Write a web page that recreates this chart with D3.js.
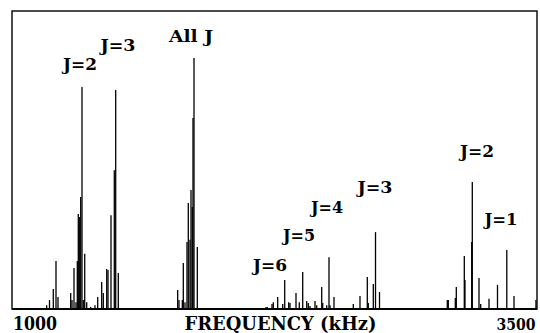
<!DOCTYPE html>
<html><head><meta charset="utf-8">
<script src="https://cdn.jsdelivr.net/npm/d3@7"></script>
<style>html,body{margin:0;padding:0;background:#fff;}svg{display:block;}
text{font-family:"DejaVu Serif","Noto Serif","Liberation Serif",serif;font-weight:bold;}</style>
</head><body>
<svg id="c" width="540" height="333"></svg>
<script>
// Line frequencies (kHz) and relative intensities (0-100 = full frame height)
const freqs = [
  1165,1178.6,1196.7,1209.5,1219,
  1279.5,1285.7,1295.2,1304.8,1311,1315.7,1320.5,1327.1,1333.3,1339.5,1346.2,1355.7,1374.8,
  1395.2,1408.1,1427.1,1434.8,1451,1457.1,1471.4,1487.1,1493.8,1506.2,
  1789,1795.2,1811,1815.7,1823.8,1833.3,1839.5,1847.6,1852.4,1858.6,1861.9,1866.7,1882.4,
  2209.5,2215.7,2238.1,2244.3,2265.2,2289,2298.6,2317.6,2323.8,2352.4,2368.1,2384.3,2403.4,2411,2419,
  2442.9,2451,2474.8,2479.5,2498.6,2509.5,2514.3,2533.3,
  2625.2,2657.1,2691.9,2696.7,2720.5,2731,2750,
  3072.9,3077.6,3111,3115.7,3153.8,3157.1,3189,3191.9,3223.8,3231.9,3271.4,3311.9,3356.2,3390.5,3495
];
const intensities = [
  1.3,3.0,6.7,16.1,4.0,
  5.4,3.0,13.8,2.3,16.1,31.9,30.9,37.6,74.5,3.0,18.5,2.3,0.7,
  1.3,4.0,9.1,5.4,13.4,13.1,31.5,46.6,73.5,12.1,
  6.4,3.0,3.0,15.4,2.3,22.5,35.6,23.2,39.9,34.2,64.1,84.2,20.8,
  0.7,0.7,1.7,2.3,4.0,1.7,9.7,2.3,2.0,5.4,2.3,12.4,2.7,2.0,1.0,
  2.7,1.3,7.4,2.0,1.3,17.4,1.3,4.0,
  1.7,4.4,10.7,2.0,8.4,25.8,5.7,
  3.0,3.0,3.7,7.4,17.8,9.7,22.5,42.6,10.4,1.7,3.4,8.1,19.8,4.4,3.0
];
// Annotation labels anchored in data coordinates
const labelTexts = ["J=2","J=3","All J","J=6","J=5","J=4","J=3","J=2","J=1"];
const labelFreqs = [1323.8,1504.8,1852.4,2228.6,2366.7,2500,2728.6,3214.3,3328.6];
const labelLevels = [80.2,86.6,89.6,12.8,22.8,32.2,38.9,51.0,28.2];
const xTickLabels = ["1000","3500"];
const xTitle = "FREQUENCY (kHz)";

const svg = d3.select("#c");
const x = d3.scaleLinear().domain([1000,3500]).range([12,537]);
const y = d3.scaleLinear().domain([0,100]).range([309,11]);

// frame
svg.append("rect").attr("x",12).attr("y",11).attr("width",525).attr("height",298)
  .attr("fill","none").attr("stroke","#000").attr("stroke-width",1.4);
svg.append("line").attr("x1",12).attr("x2",537).attr("y1",309).attr("y2",309)
  .attr("stroke","#000").attr("stroke-width",2);

// stick spectrum
svg.append("g").selectAll("line").data(freqs).join("line")
  .attr("x1",d=>x(d)).attr("x2",d=>x(d))
  .attr("y1",y(0)).attr("y2",(d,i)=>y(intensities[i]))
  .attr("stroke","#000").attr("stroke-width",1.3);

// labels
function fitted(g, txt, px, py, size, w, anchor){
  const t = g.append("text").attr("x",px).attr("y",py)
    .attr("text-anchor",anchor)
    .style("font-size",size+"px").attr("fill","#000").text(txt);
  t.attr("textLength",w).attr("lengthAdjust","spacingAndGlyphs");
}
const labelWidths = [34,35,44,34,32,32,35,34,33];
const lg = svg.append("g");
labelTexts.forEach((t,i)=>fitted(lg,t,x(labelFreqs[i]),y(labelLevels[i]),16,labelWidths[i],"middle"));

const ag = svg.append("g");
fitted(ag,xTickLabels[0],x(1000)+1,330,18,44,"start");
fitted(ag,xTickLabels[1],x(3500)-21,330,16,39,"middle");
fitted(ag,xTitle,(x(1000)+x(3500))/2+6,330,18,192,"middle");
</script>
</body></html>
